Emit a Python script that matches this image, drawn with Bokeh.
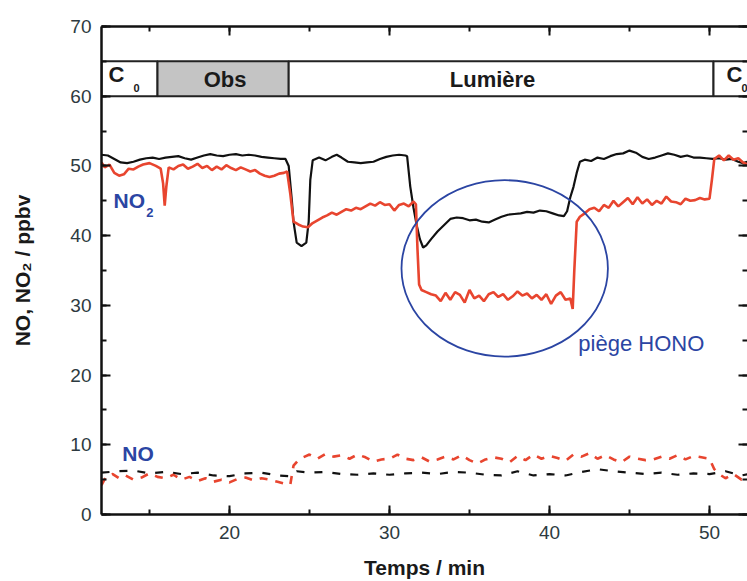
from bokeh.plotting import figure
from bokeh.models import LinearAxis, SingleIntervalTicker, Range1d, CustomJSTickFormatter
from bokeh.core.properties import value
from bokeh.embed import file_html
from bokeh.resources import INLINE

# ---------------- data ----------------
no2_ref_t = [12.0, 12.4, 12.8, 13.2, 13.6, 14.0, 14.4, 14.8, 15.2, 15.6, 16.0, 16.4, 16.8, 17.2, 17.6,
             18.0, 18.4, 18.8, 19.2, 19.6, 20.0, 20.4, 20.8, 21.2, 21.6, 22.0, 22.4, 22.8, 23.2, 23.5,
             23.7, 23.9, 24.0, 24.2, 24.5, 24.8, 24.95, 25.05, 25.2, 25.6, 26.0, 26.4, 26.7, 27.0, 27.4,
             27.8, 28.2, 28.6, 29.0, 29.4, 29.8, 30.2, 30.6, 31.0, 31.1, 31.3, 31.5, 31.7, 31.9, 32.1,
             32.3, 32.6, 33.0, 33.4, 33.8, 34.2, 34.6, 35.0, 35.4, 35.8, 36.2, 36.6, 37.0, 37.4, 37.8,
             38.2, 38.6, 39.0, 39.4, 39.8, 40.2, 40.6, 40.9, 41.1, 41.3, 41.5, 41.7, 41.9, 42.2, 42.6,
             43.0, 43.4, 43.8, 44.2, 44.6, 45.0, 45.4, 45.8, 46.2, 46.6, 47.0, 47.4, 47.8, 48.2, 48.6,
             49.0, 49.4, 49.8, 50.2, 50.6, 51.0, 51.4, 51.8, 52.1, 52.4]
no2_ref = [51.6, 51.5, 51.0, 50.5, 50.4, 50.6, 50.9, 51.1, 51.2, 51.0, 51.2, 51.3, 51.4, 51.1, 50.9,
           51.2, 51.5, 51.7, 51.5, 51.4, 51.6, 51.7, 51.5, 51.6, 51.5, 51.3, 51.2, 51.1, 51.0, 51.0,
           50.0, 45.0, 42.0, 39.0, 38.5, 39.0, 42.0, 48.0, 50.8, 51.2, 50.8, 51.3, 51.6, 51.2, 50.6,
           50.5, 50.4, 50.5, 50.6, 51.0, 51.3, 51.5, 51.6, 51.5, 51.4, 47.0, 44.0, 41.5, 39.5, 38.3,
           38.6, 39.5, 40.6, 41.5, 42.4, 42.6, 42.5, 42.2, 42.3, 42.0, 41.9, 42.3, 42.7, 43.0, 43.1,
           43.2, 43.4, 43.3, 43.6, 43.5, 43.2, 42.9, 42.8, 43.5, 45.5, 47.0, 49.0, 50.6, 50.9, 50.7,
           51.2, 51.0, 51.4, 51.7, 51.8, 52.2, 51.9, 51.3, 51.0, 51.2, 51.5, 51.8, 51.6, 51.3, 51.5,
           51.2, 51.2, 51.1, 51.0, 51.1, 50.9, 51.0, 50.6, 50.4, 50.6]

no2_t = [12.0, 12.2, 12.5, 12.8, 13.1, 13.4, 13.7, 14.0, 14.3, 14.6, 15.0, 15.4, 15.7, 15.85, 15.95,
         16.05, 16.2, 16.5, 16.8, 17.1, 17.4, 17.7, 18.0, 18.3, 18.6, 18.9, 19.2, 19.5, 19.8, 20.1,
         20.4, 20.7, 21.0, 21.3, 21.6, 21.9, 22.2, 22.5, 22.8, 23.1, 23.4, 23.6, 23.8, 24.0, 24.3,
         24.6, 24.9, 25.2, 25.5, 25.8, 26.1, 26.4, 26.7, 27.0, 27.3, 27.6, 27.9, 28.2, 28.5, 28.8,
         29.1, 29.4, 29.7, 30.0, 30.3, 30.6, 30.9, 31.2, 31.5, 31.65, 31.75, 31.85, 32.0, 32.3, 32.6,
         32.9, 33.2, 33.5, 33.8, 34.1, 34.4, 34.7, 35.0, 35.3, 35.6, 35.9, 36.2, 36.5, 36.8, 37.1,
         37.4, 37.7, 38.0, 38.3, 38.6, 38.9, 39.2, 39.5, 39.8, 40.1, 40.4, 40.7, 41.0, 41.3, 41.45,
         41.55, 41.7, 41.9, 42.2, 42.5, 42.8, 43.1, 43.4, 43.7, 44.0, 44.3, 44.6, 44.9, 45.2, 45.5,
         45.8, 46.1, 46.4, 46.7, 47.0, 47.3, 47.6, 47.9, 48.2, 48.5, 48.8, 49.1, 49.4, 49.7, 50.0,
         50.15, 50.3, 50.6, 50.9, 51.2, 51.5, 51.8, 52.1, 52.4]
no2 = [50.5, 49.8, 50.2, 49.0, 48.6, 48.8, 49.6, 49.5, 49.9, 50.2, 50.4, 50.0, 49.6, 47.5, 44.3,
       47.0, 49.8, 49.5, 50.0, 50.2, 49.6, 49.9, 50.3, 49.7, 50.0, 49.4, 49.9, 49.5, 50.1, 49.7,
       49.4, 49.8, 49.5, 49.2, 49.4, 48.9, 48.6, 48.4, 48.6, 48.9, 49.0, 49.2, 46.0, 42.0, 41.6,
       41.3, 41.2, 41.8, 42.2, 42.6, 42.9, 43.3, 43.0, 43.4, 43.8, 43.6, 44.0, 43.8, 44.2, 44.6,
       44.3, 44.8, 44.4, 44.5, 43.6, 44.4, 44.6, 44.2, 44.9, 44.5, 38.0, 33.0, 32.2, 31.9, 31.6,
       31.4, 30.6, 31.8, 30.8, 31.9, 31.5, 30.4, 32.2, 31.0, 31.4, 30.6, 31.6, 31.9, 31.2, 31.6,
       30.8, 31.3, 32.0, 31.4, 31.7, 31.0, 31.5, 30.8, 31.6, 30.2, 31.4, 31.9, 30.8, 31.0, 29.5,
       35.0, 42.0, 42.7, 43.2, 43.8, 44.0, 43.5, 44.4, 44.0, 45.0, 44.2, 44.8, 45.4, 44.5, 45.5,
       44.6, 45.2, 44.4, 45.0, 44.6, 45.6, 44.9, 44.8, 44.5, 45.3, 45.0, 45.1, 45.4, 45.2, 45.3,
       48.0, 51.0, 51.5, 50.8, 51.5, 50.9, 51.1, 50.5, 50.2]

no_ref_t = [12, 13, 14, 15, 16, 17, 18, 19, 20, 21, 22, 23, 23.8, 24.2, 25, 26, 27, 28, 29, 30, 31,
            32, 33, 34, 35, 36, 37, 38, 39, 40, 41, 42, 43, 44, 45, 46, 47, 48, 49, 50, 51, 52, 52.4]
no_ref = [6.0, 6.2, 6.3, 5.9, 6.1, 5.8, 6.0, 5.6, 5.5, 5.9, 6.0, 5.6, 5.5, 6.2, 6.0, 6.1, 5.8, 5.7,
          5.9, 5.7, 5.9, 6.0, 5.8, 6.1, 6.0, 5.7, 5.6, 6.2, 5.6, 5.8, 5.6, 6.1, 6.5, 6.2, 6.0, 5.8,
          6.0, 5.7, 5.9, 5.8, 6.2, 5.6, 5.8]

no_t = [12, 12.3, 12.7, 13.1, 13.5, 14, 14.5, 15, 15.5, 16, 16.5, 17, 17.5, 18, 18.5, 19, 19.5, 20,
        20.5, 21, 21.5, 22, 22.5, 23, 23.5, 23.8, 24.0, 24.3, 24.6, 25, 25.5, 26, 26.5, 27, 27.5, 28,
        28.5, 29, 29.5, 30, 30.5, 31, 31.5, 32, 32.5, 33, 33.5, 34, 34.5, 35, 35.5, 36, 36.5, 37,
        37.5, 38, 38.5, 39, 39.5, 40, 40.5, 41, 41.5, 42, 42.5, 43, 43.5, 44, 44.5, 45, 45.5, 46,
        46.5, 47, 47.5, 48, 48.5, 49, 49.5, 50, 50.3, 50.6, 51, 51.5, 52, 52.4]
no = [4.2, 5.5, 5.8, 5.2, 5.6, 5.0, 5.3, 5.9, 5.4, 5.2, 5.7, 5.0, 5.4, 4.8, 5.2, 4.7, 5.0, 4.6,
      5.1, 5.3, 4.9, 5.2, 5.0, 4.7, 4.4, 4.3, 7.0, 7.8, 8.2, 8.6, 8.0, 8.7, 8.3, 8.5, 8.0, 8.6,
      8.2, 7.6, 7.9, 8.0, 8.6, 8.0, 7.8, 8.2, 7.6, 7.9, 8.3, 7.9, 8.5, 7.8, 7.3, 7.9, 8.2, 8.0,
      7.5, 8.4, 7.8, 8.6, 8.0, 8.4, 8.1, 7.7, 8.6, 8.3, 8.8, 8.0, 8.5, 7.9, 7.5, 8.3, 8.0, 7.8,
      7.9, 8.3, 8.0, 8.5, 7.9, 8.4, 8.2, 8.0, 6.5, 5.8, 5.2, 5.8, 5.0, 5.6]

# phase band
phase_start = [12.0, 15.5, 23.7, 50.25]
phase_end = [15.5, 23.7, 50.25, 53.0]
phase_fill = ["white", "#c4c4c4", "white", "white"]
x_ticks_interval = 10

FONT = "Liberation Sans"
BLUE = "#2b45a3"
RED = "#e8452f"

p = figure(frame_width=646, frame_height=488,
           min_border_left=101, min_border_right=0, min_border_top=26, min_border_bottom=66,
           x_range=Range1d(12, 52.375), y_range=Range1d(0, 70),
           output_backend="svg", toolbar_location=None)
p.outline_line_color = None
p.xgrid.visible = False
p.ygrid.visible = False
p.background_fill_color = "white"
p.border_fill_color = "white"


def style(ax, labels=True):
    ax.ticker = SingleIntervalTicker(interval=x_ticks_interval, num_minor_ticks=2)
    ax.axis_line_width = 2.5
    ax.axis_line_color = "#111111"
    ax.major_tick_in = 9
    ax.major_tick_out = 0
    ax.minor_tick_in = 5
    ax.minor_tick_out = 0
    ax.major_tick_line_width = 2
    ax.minor_tick_line_width = 2
    ax.major_tick_line_color = "#111111"
    ax.minor_tick_line_color = "#111111"
    if labels:
        ax.major_label_text_font = FONT
        ax.major_label_text_font_size = "19px"
        ax.major_label_text_color = "#2d3a40"
        ax.axis_label_text_font = FONT
        ax.axis_label_text_font_size = "21px"
        ax.axis_label_text_font_style = "bold"
        ax.axis_label_text_color = "#1a1a1a"
    else:
        ax.formatter = CustomJSTickFormatter(code="return ''")
        ax.major_label_text_font_size = "1px"
        ax.major_label_standoff = 0


style(p.xaxis[0])
style(p.yaxis[0])
p.xaxis[0].axis_label = "Temps / min"
p.xaxis[0].major_label_standoff = 11
p.xaxis[0].axis_label_standoff = 14
p.yaxis[0].axis_label = "NO, NO₂ / ppbv"
p.yaxis[0].major_label_standoff = 10
p.yaxis[0].axis_label_standoff = 33

top = LinearAxis()
style(top, labels=False)
p.add_layout(top, "above")
right = LinearAxis()
style(right, labels=False)
right.axis_line_color = None
p.add_layout(right, "right")

# phase band
p.quad(left=phase_start, right=phase_end, bottom=60, top=65,
       fill_color=phase_fill, line_color="#222222", line_width=2)

bold = dict(text_font=value(FONT), text_font_style="bold", text_baseline="middle")
p.text(x=[12.44, 51.06], y=[63.05, 63.1], text=["C", "C"], text_font_size="22px",
       text_color="#1a1a1a", text_align="left", **bold)
p.text(x=[14.0, 52.0], y=[61.2, 61.2], text=["0", "0"], text_font_size="11px",
       text_color="#1a1a1a", text_align="left", **bold)
p.text(x=[19.72, 36.44], y=[62.35, 62.35], text=["Obs", "Lumière"], text_font_size="22px",
       text_color="#1a1a1a", text_align="center", **bold)

# curves
p.line(no2_ref_t, no2_ref, line_color="#111111", line_width=2.2)
p.line(no2_t, no2, line_color=RED, line_width=2.6)
p.line(no_ref_t, no_ref, line_color="#111111", line_width=2.2, line_dash="8 10")
p.line(no_t, no, line_color=RED, line_width=2.6, line_dash="8 8")

# HONO trap ellipse
p.ellipse(x=[37.2], y=[35.3], width=12.9, height=25.3, fill_color=None,
          line_color=BLUE, line_width=1.8)

# labels
p.text(x=[12.75], y=[45.1], text=["NO"], text_font_size="21px", text_color=BLUE,
       text_align="left", **bold)
p.text(x=[14.8], y=[43.25], text=["2"], text_font_size="13px", text_color=BLUE,
       text_align="left", **bold)
p.text(x=[13.3], y=[8.8], text=["NO"], text_font_size="21px", text_color=BLUE,
       text_align="left", **bold)
p.text(x=[41.8], y=[24.6], text=["piège HONO"], text_font_size="22px", text_color=BLUE,
       text_align="left", text_baseline="middle", text_font=value(FONT))

open("out.html", "w").write(file_html(p, INLINE))
